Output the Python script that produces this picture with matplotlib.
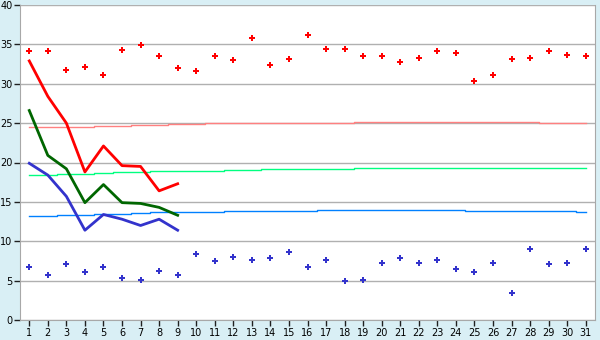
import matplotlib.pyplot as plt
import numpy as np

days = np.arange(1, 32)

# daily points
hi_pts = [34.2, 34.2, 31.8, 32.1, 31.1, 34.3, 34.9, 33.5, 32.0, 31.6,
          33.5, 33.0, 35.8, 32.4, 33.2, 36.2, 34.4, 34.4, 33.5, 33.5,
          32.7, 33.3, 34.2, 33.9, 30.4, 31.1, 33.2, 33.3, 34.2, 33.7, 33.5]
lo_pts = [6.7, 5.7, 7.1, 6.1, 6.7, 5.3, 5.05, 6.2, 5.7, 8.4,
          7.5, 8.0, 7.6, 7.85, 8.6, 6.7, 7.6, 4.9, 5.05, 7.2,
          7.85, 7.2, 7.6, 6.45, 6.1, 7.3, 3.4, 9.0, 7.1, 7.2, 9.0]

# current month, first 9 days
cur_days = np.arange(1, 10)
cur_max = [32.9, 28.4, 25.0, 18.8, 22.1, 19.6, 19.5, 16.4, 17.3]
cur_mean = [26.6, 20.9, 19.2, 14.9, 17.2, 14.9, 14.8, 14.3, 13.3]
cur_min = [19.9, 18.4, 15.7, 11.4, 13.4, 12.8, 12.0, 12.8, 11.4]

# long-term normals
norm_max = [24.5] * 4 + [24.65] * 2 + [24.75] * 2 + [24.9] * 2 + [25.0] * 8 + [25.15] * 10 + [25.0] * 3
norm_mean = [18.4] * 2 + [18.55] * 2 + [18.65] + [18.8] * 2 + [18.9] * 4 + [19.05] * 2 + [19.17] * 5 + [19.3] * 13
norm_min = [13.2] * 2 + [13.32] * 2 + [13.45] * 2 + [13.57] + [13.7] * 4 + [13.83] * 5 + [13.96] * 8 + [13.83] * 6 + [13.7]

bg = '#d9eff5'
fig = plt.figure(figsize=(6, 3.4), dpi=100, facecolor=bg)
ax = fig.add_axes([20 / 600, 1 - 320 / 340, 575 / 600, 315 / 340])

ax.plot(days, norm_max, color='#ff8080', lw=1, drawstyle='steps-mid')
ax.plot(days, norm_mean, color='#00ff80', lw=1, drawstyle='steps-mid')
ax.plot(days, norm_min, color='#0080ff', lw=1, drawstyle='steps-mid')

ax.plot(cur_days, cur_max, color='#ff0000', lw=2)
ax.plot(cur_days, cur_mean, color='#006600', lw=2)
ax.plot(cur_days, cur_min, color='#3333cc', lw=2)

ax.plot(days, hi_pts, ls='none', marker='P', ms=5, color='#ff0000', mew=0)
ax.plot(days, lo_pts, ls='none', marker='P', ms=5, color='#3333cc', mew=0)

ax.set_xlim(0.5, 31.5)
ax.set_ylim(0, 40)
ax.set_xticks(days)
ax.set_yticks(np.arange(0, 41, 5))
ax.yaxis.grid(True, color='#b0b0b0', lw=1)
ax.set_axisbelow(True)
for s in ax.spines.values():
    s.set_color('#a8a8a8')
ax.spines['top'].set_visible(False)
ax.tick_params(labelsize=7, length=4, width=1, color='#202020', pad=1.5)

plt.savefig('out.png', dpi=100, facecolor=bg)
